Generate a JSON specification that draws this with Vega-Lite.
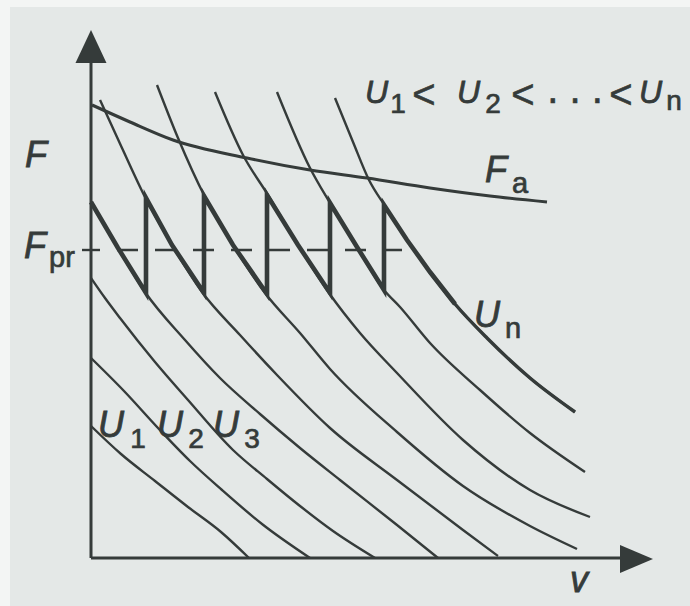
{
  "$schema": "https://vega.github.io/schema/vega-lite/v6.json",
  "width": 690,
  "height": 606,
  "autosize": {"type": "fit", "contains": "padding"},
  "padding": 0,
  "background": "#f3f5f4",
  "config": {"view": {"stroke": null}},
  "datasets": {
    "paper": [{"v": -81, "v2": 599, "F": -48, "F2": 551}],
    "curves": [
      {"c": "c1", "v": 0, "F": 132}, {"c": "c1", "v": 30, "F": 104}, {"c": "c1", "v": 64, "F": 77}, {"c": "c1", "v": 97, "F": 51}, {"c": "c1", "v": 130, "F": 26}, {"c": "c1", "v": 158, "F": 0},
      {"c": "c2", "v": 0, "F": 200}, {"c": "c2", "v": 33, "F": 167}, {"c": "c2", "v": 67, "F": 130}, {"c": "c2", "v": 99, "F": 97}, {"c": "c2", "v": 131, "F": 68}, {"c": "c2", "v": 171, "F": 34}, {"c": "c2", "v": 219, "F": 0},
      {"c": "c3", "v": 0, "F": 280}, {"c": "c3", "v": 14, "F": 260}, {"c": "c3", "v": 29, "F": 240}, {"c": "c3", "v": 64, "F": 196}, {"c": "c3", "v": 97, "F": 158}, {"c": "c3", "v": 142, "F": 108}, {"c": "c3", "v": 176, "F": 79}, {"c": "c3", "v": 209, "F": 52}, {"c": "c3", "v": 242, "F": 27}, {"c": "c3", "v": 284, "F": 0},
      {"c": "c4", "v": 0, "F": 356}, {"c": "c4", "v": 27, "F": 310}, {"c": "c4", "v": 54, "F": 266}, {"c": "c4", "v": 94, "F": 218}, {"c": "c4", "v": 129, "F": 180}, {"c": "c4", "v": 169, "F": 144}, {"c": "c4", "v": 209, "F": 110}, {"c": "c4", "v": 249, "F": 78}, {"c": "c4", "v": 306, "F": 33}, {"c": "c4", "v": 347, "F": 0},
      {"c": "c5", "v": 9, "F": 458}, {"c": "c5", "v": 31, "F": 410}, {"c": "c5", "v": 54, "F": 361}, {"c": "c5", "v": 81, "F": 313}, {"c": "c5", "v": 111, "F": 266}, {"c": "c5", "v": 149, "F": 223}, {"c": "c5", "v": 186, "F": 183}, {"c": "c5", "v": 239, "F": 130}, {"c": "c5", "v": 306, "F": 78}, {"c": "c5", "v": 372, "F": 28}, {"c": "c5", "v": 407, "F": 2},
      {"c": "c6", "v": 66, "F": 473}, {"c": "c6", "v": 87, "F": 420}, {"c": "c6", "v": 114, "F": 361}, {"c": "c6", "v": 142, "F": 313}, {"c": "c6", "v": 174, "F": 265}, {"c": "c6", "v": 209, "F": 225}, {"c": "c6", "v": 239, "F": 189}, {"c": "c6", "v": 306, "F": 126}, {"c": "c6", "v": 372, "F": 72}, {"c": "c6", "v": 439, "F": 32}, {"c": "c6", "v": 486, "F": 9},
      {"c": "c7", "v": 124, "F": 466}, {"c": "c7", "v": 152, "F": 403}, {"c": "c7", "v": 177, "F": 363}, {"c": "c7", "v": 207, "F": 313}, {"c": "c7", "v": 238, "F": 265}, {"c": "c7", "v": 269, "F": 225}, {"c": "c7", "v": 306, "F": 185}, {"c": "c7", "v": 372, "F": 118}, {"c": "c7", "v": 439, "F": 68}, {"c": "c7", "v": 499, "F": 41},
      {"c": "c8", "v": 186, "F": 466}, {"c": "c8", "v": 219, "F": 390}, {"c": "c8", "v": 239, "F": 355}, {"c": "c8", "v": 266, "F": 311}, {"c": "c8", "v": 293, "F": 268}, {"c": "c8", "v": 309, "F": 251}, {"c": "c8", "v": 339, "F": 215}, {"c": "c8", "v": 389, "F": 168}, {"c": "c8", "v": 439, "F": 125}, {"c": "c8", "v": 494, "F": 86},
      {"c": "c9", "v": 244, "F": 460}, {"c": "c9", "v": 262, "F": 416}, {"c": "c9", "v": 278, "F": 378}, {"c": "c9", "v": 294, "F": 352}, {"c": "c9", "v": 316, "F": 318}, {"c": "c9", "v": 339, "F": 286}, {"c": "c9", "v": 364, "F": 254}, {"c": "c9", "v": 396, "F": 220}, {"c": "c9", "v": 439, "F": 180}, {"c": "c9", "v": 484, "F": 146}
    ],
    "un": [
      {"v": 339, "F": 286}, {"v": 364, "F": 254}, {"v": 396, "F": 220}, {"v": 439, "F": 180}, {"v": 484, "F": 146}
    ],
    "fa": [
      {"v": 1, "F": 453}, {"v": 39, "F": 436}, {"v": 82, "F": 418}, {"v": 156, "F": 400}, {"v": 219, "F": 388}, {"v": 276, "F": 380}, {"v": 339, "F": 370}, {"v": 399, "F": 362}, {"v": 456, "F": 356}
    ],
    "saw": [
      {"i": 1, "v": 0, "F": 356}, {"i": 2, "v": 27, "F": 310}, {"i": 3, "v": 55, "F": 265},
      {"i": 4, "v": 55, "F": 360}, {"i": 5, "v": 81, "F": 313}, {"i": 6, "v": 113, "F": 265},
      {"i": 7, "v": 113, "F": 362}, {"i": 8, "v": 142, "F": 313}, {"i": 9, "v": 176, "F": 264},
      {"i": 10, "v": 176, "F": 363}, {"i": 11, "v": 207, "F": 313}, {"i": 12, "v": 239, "F": 265},
      {"i": 13, "v": 239, "F": 355}, {"i": 14, "v": 266, "F": 311}, {"i": 15, "v": 293, "F": 268},
      {"i": 16, "v": 293, "F": 353}, {"i": 17, "v": 316, "F": 318}, {"i": 18, "v": 339, "F": 286}, {"i": 19, "v": 364, "F": 254}
    ],
    "fpr": [{"v": 26, "v2": 311, "F": 308}],
    "fprTick": [{"v": -9, "v2": 9, "F": 308}],
    "axes": [
      {"a": "y", "v": 0, "F": 0}, {"a": "y", "v": 0, "F": 500},
      {"a": "x", "v": 0, "F": 0}, {"a": "x", "v": 535, "F": 0}
    ],
    "arrowUp": [{"v": 0, "F": 511.5}],
    "arrowRight": [{"v": 545.5, "F": -1}],
    "letters": [
      {"t": "F", "v": -66, "F": 391}, {"t": "F", "v": -67, "F": 300}, {"t": "F", "v": 394, "F": 376},
      {"t": "U", "v": 383, "F": 231}, {"t": "U", "v": 7, "F": 121}, {"t": "U", "v": 66, "F": 121},
      {"t": "U", "v": 122, "F": 121}, {"t": "v", "v": 479, "F": -34}
    ],
    "lettersTop": [
      {"t": "U", "v": 274, "F": 455}, {"t": "U", "v": 366, "F": 455}, {"t": "U", "v": 548, "F": 455}
    ],
    "subs": [
      {"t": "pr", "v": -42, "F": 291}, {"t": "a", "v": 421, "F": 365}, {"t": "n", "v": 414, "F": 220}
    ],
    "digits": [
      {"t": "1", "v": 47, "F": 110}, {"t": "2", "v": 105, "F": 110}, {"t": "3", "v": 161, "F": 110},
      {"t": "1", "v": 307, "F": 445}, {"t": "2", "v": 402, "F": 445}, {"t": "n", "v": 583, "F": 448}
    ],
    "ops": [
      {"t": "<", "v": 333, "F": 450}, {"t": "<", "v": 432, "F": 450}, {"t": "<", "v": 530, "F": 450}
    ],
    "dots": [{"t": ". . .", "v": 484, "F": 455}]
  },
  "encoding": {
    "x": {"field": "v", "type": "quantitative", "scale": {"domain": [-91, 599], "nice": false, "zero": false}, "axis": null},
    "y": {"field": "F", "type": "quantitative", "scale": {"domain": [-48, 558], "nice": false, "zero": false}, "axis": null}
  },
  "layer": [
    {
      "data": {"name": "paper"},
      "mark": {"type": "rect", "fill": "#e4e8e7"},
      "encoding": {"x2": {"field": "v2"}, "y2": {"field": "F2"}}
    },
    {
      "data": {"name": "curves"},
      "mark": {"type": "line", "interpolate": "monotone", "stroke": "#353b3a", "strokeWidth": 2.4},
      "encoding": {"detail": {"field": "c", "type": "nominal"}}
    },
    {
      "data": {"name": "un"},
      "mark": {"type": "line", "interpolate": "monotone", "stroke": "#353b3a", "strokeWidth": 3.4},
      "encoding": {}
    },
    {
      "data": {"name": "fa"},
      "mark": {"type": "line", "interpolate": "monotone", "stroke": "#353b3a", "strokeWidth": 3.1},
      "encoding": {}
    },
    {
      "data": {"name": "fpr"},
      "mark": {"type": "rule", "stroke": "#353b3a", "strokeWidth": 2.4, "strokeDash": [21, 17]},
      "encoding": {"x2": {"field": "v2"}}
    },
    {
      "data": {"name": "fprTick"},
      "mark": {"type": "rule", "stroke": "#353b3a", "strokeWidth": 2.4},
      "encoding": {"x2": {"field": "v2"}}
    },
    {
      "data": {"name": "saw"},
      "mark": {"type": "line", "interpolate": "linear", "stroke": "#353b3a", "strokeWidth": 4.6, "strokeJoin": "miter", "strokeMiterLimit": 12},
      "encoding": {"order": {"field": "i", "type": "quantitative"}}
    },
    {
      "data": {"name": "axes"},
      "mark": {"type": "line", "stroke": "#353b3a", "strokeWidth": 3},
      "encoding": {"detail": {"field": "a", "type": "nominal"}}
    },
    {
      "data": {"name": "arrowUp"},
      "mark": {"type": "point", "shape": "M0,-1L-0.94,1L0.94,1Z", "size": 1089, "filled": true, "fill": "#353b3a", "opacity": 1, "strokeWidth": 0}
    },
    {
      "data": {"name": "arrowRight"},
      "mark": {"type": "point", "shape": "M1,0L-1,-0.85L-1,0.85Z", "size": 1089, "filled": true, "fill": "#353b3a", "opacity": 1, "strokeWidth": 0}
    },
    {
      "data": {"name": "letters"},
      "mark": {"type": "text", "font": "Liberation Sans", "fontStyle": "italic", "fontSize": 36, "align": "left", "baseline": "alphabetic", "fill": "#353b3a", "stroke": "#353b3a", "strokeWidth": 0.8},
      "encoding": {"text": {"field": "t"}}
    },
    {
      "data": {"name": "lettersTop"},
      "mark": {"type": "text", "font": "Liberation Sans", "fontStyle": "italic", "fontSize": 32, "align": "left", "baseline": "alphabetic", "fill": "#353b3a", "stroke": "#353b3a", "strokeWidth": 0.8},
      "encoding": {"text": {"field": "t"}}
    },
    {
      "data": {"name": "subs"},
      "mark": {"type": "text", "font": "Liberation Sans", "fontSize": 29, "align": "left", "baseline": "alphabetic", "fill": "#353b3a", "stroke": "#353b3a", "strokeWidth": 0.7},
      "encoding": {"text": {"field": "t"}}
    },
    {
      "data": {"name": "digits"},
      "mark": {"type": "text", "font": "Liberation Sans", "fontSize": 28, "align": "center", "baseline": "alphabetic", "fill": "#353b3a", "stroke": "#353b3a", "strokeWidth": 0.7},
      "encoding": {"text": {"field": "t"}}
    },
    {
      "data": {"name": "ops"},
      "mark": {"type": "text", "font": "Liberation Sans", "fontSize": 40, "align": "center", "baseline": "alphabetic", "fill": "#353b3a", "stroke": "#353b3a", "strokeWidth": 0.6},
      "encoding": {"text": {"field": "t"}}
    },
    {
      "data": {"name": "dots"},
      "mark": {"type": "text", "font": "Liberation Sans", "fontSize": 40, "align": "center", "baseline": "alphabetic", "fill": "#353b3a", "stroke": "#353b3a", "strokeWidth": 0.6},
      "encoding": {"text": {"field": "t"}}
    }
  ]
}
